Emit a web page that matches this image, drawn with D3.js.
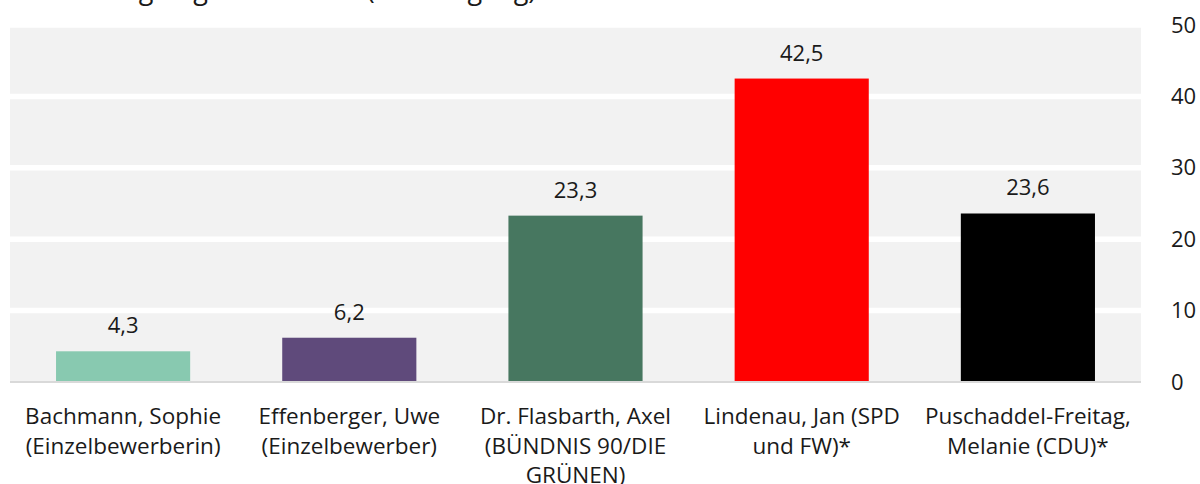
<!DOCTYPE html>
<html>
<head>
<meta charset="utf-8">
<script src="https://cdn.jsdelivr.net/npm/d3@7"></script>
<style>
  html, body { margin: 0; padding: 0; background: #ffffff; overflow: hidden; }
  svg { display: block; font-family: "Open Sans", sans-serif; }
</style>
</head>
<body>
<svg id="chart" width="1200" height="484"></svg>
<script>
const title = "Anteil der gültigen Stimmen (1. Wahlgang)";
const categories = [
  "Bachmann, Sophie (Einzelbewerberin)",
  "Effenberger, Uwe (Einzelbewerber)",
  "Dr. Flasbarth, Axel (BÜNDNIS 90/DIE GRÜNEN)",
  "Lindenau, Jan (SPD und FW)*",
  "Puschaddel-Freitag, Melanie (CDU)*"
];
const values = [4.3, 6.2, 23.3, 42.5, 23.6];
const colors = ["#88c9b0", "#5f4a7b", "#477760", "#ff0000", "#000000"];
const yTicks = [0, 10, 20, 30, 40, 50];

const svg = d3.select("#chart");
const plot = { left: 10, right: 1141, top: 25, bottom: 382 };
const textColor = "#1a1a1a";
const de = d3.formatLocale({ decimal: ",", thousands: ".", grouping: [3], currency: ["", " €"] });
const fmt = de.format(".1f");

const x = d3.scaleBand()
  .domain(categories)
  .range([plot.left, plot.right])
  .paddingInner(0.407)
  .paddingOuter(0.2035);

const y = d3.scaleLinear()
  .domain([0, 50])
  .range([plot.bottom, plot.top]);

// title (mostly above the visible area, as in the reference)
svg.append("text")
  .attr("x", 10)
  .attr("y", -1.5)
  .attr("font-size", 27)
  .attr("fill", textColor)
  .text(title);

// plot background
svg.append("rect")
  .attr("x", plot.left)
  .attr("y", y(50))
  .attr("width", plot.right - plot.left)
  .attr("height", y(0) - y(50))
  .attr("fill", "#f2f2f2");

// white gridlines
svg.append("g")
  .selectAll("line")
  .data(yTicks.filter(d => d > 0))
  .join("line")
  .attr("x1", plot.left)
  .attr("x2", plot.right)
  .attr("y1", d => y(d))
  .attr("y2", d => y(d))
  .attr("stroke", "#ffffff")
  .attr("stroke-width", 5.5);

// bars
svg.append("g")
  .selectAll("rect")
  .data(values)
  .join("rect")
  .attr("x", (d, i) => x(categories[i]))
  .attr("width", x.bandwidth())
  .attr("y", d => y(d))
  .attr("height", d => y(0) - y(d))
  .attr("fill", (d, i) => colors[i]);

// baseline axis line
svg.append("line")
  .attr("x1", plot.left)
  .attr("x2", plot.right)
  .attr("y1", y(0))
  .attr("y2", y(0))
  .attr("stroke", "#d9d9d9")
  .attr("stroke-width", 2);

// value labels
svg.append("g")
  .selectAll("text")
  .data(values)
  .join("text")
  .attr("x", (d, i) => x(categories[i]) + x.bandwidth() / 2)
  .attr("y", d => y(d) - 18)
  .attr("text-anchor", "middle")
  .attr("font-size", 22)
  .attr("fill", textColor)
  .text(d => fmt(d));

// y axis on the right
const yAxis = d3.axisRight(y).tickValues(yTicks).tickSize(0).tickPadding(0).tickFormat(d3.format("d"));
const yg = svg.append("g").attr("transform", `translate(1171,0)`).call(yAxis);
yg.select(".domain").remove();
yg.selectAll("text")
  .attr("font-size", 22)
  .attr("font-family", "Open Sans, sans-serif")
  .attr("fill", textColor)
  .attr("dy", "0.32em")
  .attr("x", 0);

// category labels with wrapping
const xAxis = d3.axisBottom(x).tickSize(0).tickPadding(0);
const xg = svg.append("g").attr("transform", `translate(0,${plot.bottom})`).call(xAxis);
xg.select(".domain").remove();
xg.selectAll("text")
  .attr("font-size", 22.5)
  .attr("font-family", "Open Sans, sans-serif")
  .attr("fill", textColor)
  .attr("y", 42)
  .attr("dy", 0)
  .each(function () {
    const t = d3.select(this);
    const words = t.text().split(/\s+/);
    const maxW = 218;
    const lineH = 29.5;
    t.text(null);
    let line = [];
    let tspan = t.append("tspan").attr("x", 0).attr("dy", 0);
    for (const w of words) {
      line.push(w);
      tspan.text(line.join(" "));
      if (tspan.node().getComputedTextLength() > maxW && line.length > 1) {
        line.pop();
        tspan.text(line.join(" "));
        line = [w];
        tspan = t.append("tspan").attr("x", 0).attr("dy", lineH).text(w);
      }
    }
  });
</script>
</body>
</html>
